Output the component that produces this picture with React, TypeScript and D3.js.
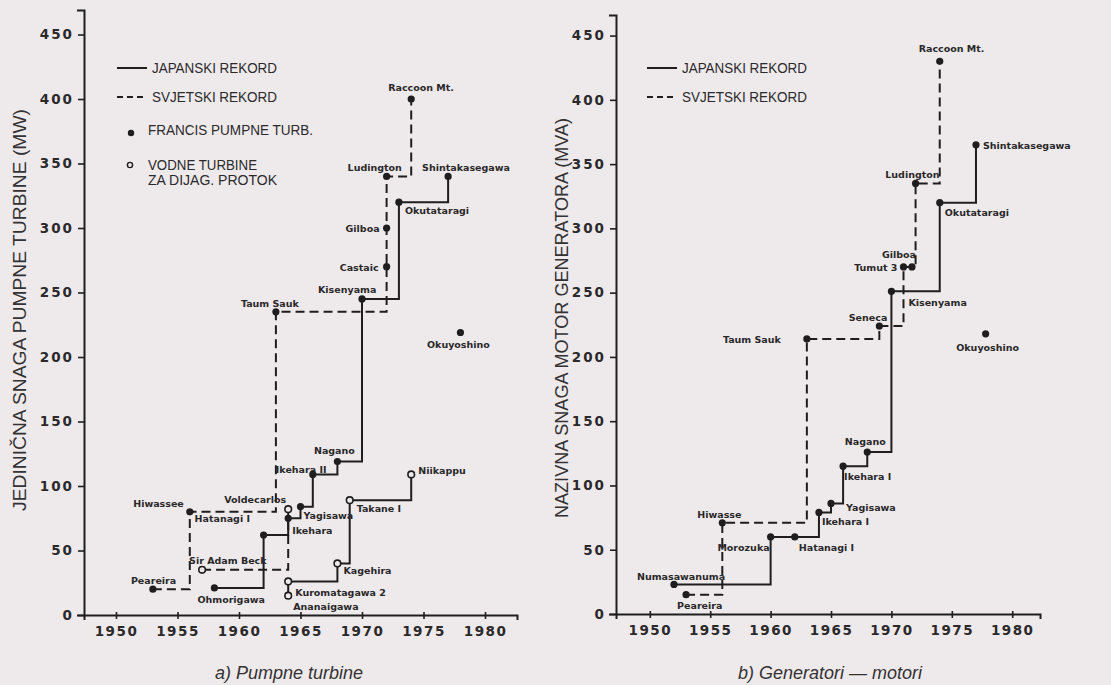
import * as d3 from 'd3';
import { useEffect, useRef } from 'react';

const yearTicks = [1950, 1955, 1960, 1965, 1970, 1975, 1980];
const powerTicks = [0, 50, 100, 150, 200, 250, 300, 350, 400, 450];

// a) Pumpne turbine — Francis pump turbines (filled dots)
const pumpFrancis = [
  { id: 'peareira', name: 'Peareira', year: 1953, value: 20 },
  { id: 'hiwassee', name: 'Hiwassee', year: 1956, value: 80 },
  { id: 'ohmorigawa', name: 'Ohmorigawa', year: 1958, value: 21 },
  { id: 'hatanagi', name: 'Hatanagi I', year: 1962, value: 62 },
  { id: 'taumSauk', name: 'Taum Sauk', year: 1963, value: 235 },
  { id: 'ikehara', name: 'Ikehara', year: 1964, value: 75 },
  { id: 'yagisawa', name: 'Yagisawa', year: 1965, value: 84 },
  { id: 'ikeharaII', name: 'Ikehara II', year: 1966, value: 109 },
  { id: 'nagano', name: 'Nagano', year: 1968, value: 119 },
  { id: 'kisenyama', name: 'Kisenyama', year: 1970, value: 245 },
  { id: 'castaic', name: 'Castaic', year: 1972, value: 270 },
  { id: 'gilboa', name: 'Gilboa', year: 1972, value: 300 },
  { id: 'ludington', name: 'Ludington', year: 1972, value: 340 },
  { id: 'okutataragi', name: 'Okutataragi', year: 1973, value: 320 },
  { id: 'raccoon', name: 'Raccoon Mt.', year: 1974, value: 400 },
  { id: 'shintakasegawa', name: 'Shintakasegawa', year: 1977, value: 340 },
  { id: 'okuyoshino', name: 'Okuyoshino', year: 1978, value: 219 },
];

// a) diagonal flow turbines (open circles)
const pumpDiagonal = [
  { id: 'sirAdamBeck', name: 'Sir Adam Beck', year: 1957, value: 35 },
  { id: 'voldecarlos', name: 'Voldecarlos', year: 1964, value: 82 },
  { id: 'ananaigawa', name: 'Ananaigawa', year: 1964, value: 15 },
  { id: 'kuromatagawa', name: 'Kuromatagawa 2', year: 1964, value: 26 },
  { id: 'kagehira', name: 'Kagehira', year: 1968, value: 40 },
  { id: 'takane', name: 'Takane I', year: 1969, value: 89 },
  { id: 'niikappu', name: 'Niikappu', year: 1974, value: 109 },
];

const pumpJapanRecord = ['ohmorigawa', 'hatanagi', 'ikehara', 'yagisawa', 'ikeharaII', 'nagano', 'kisenyama', 'okutataragi', 'shintakasegawa'];
const pumpJapanDiagonal = ['ananaigawa', 'kuromatagawa', 'kagehira', 'takane', 'niikappu'];
const pumpWorldRecord = ['peareira', 'hiwassee', 'taumSauk', 'ludington', 'raccoon'];
const pumpWorldDiagonal = ['sirAdamBeck', 'voldecarlos'];

// b) Generatori - motori
const genUnits = [
  { id: 'numasawanuma', name: 'Numasawanuma', year: 1952, value: 23 },
  { id: 'peareira', name: 'Peareira', year: 1953, value: 15 },
  { id: 'hiwasse', name: 'Hiwasse', year: 1956, value: 71 },
  { id: 'morozuka', name: 'Morozuka', year: 1960, value: 60 },
  { id: 'hatanagi', name: 'Hatanagi I', year: 1962, value: 60 },
  { id: 'taumSauk', name: 'Taum Sauk', year: 1963, value: 214 },
  { id: 'ikeharaA', name: 'Ikehara I', year: 1964, value: 79 },
  { id: 'yagisawa', name: 'Yagisawa', year: 1965, value: 86 },
  { id: 'ikeharaB', name: 'Ikehara I', year: 1966, value: 115 },
  { id: 'nagano', name: 'Nagano', year: 1968, value: 126 },
  { id: 'seneca', name: 'Seneca', year: 1969, value: 224 },
  { id: 'kisenyama', name: 'Kisenyama', year: 1970, value: 251 },
  { id: 'tumut', name: 'Tumut 3', year: 1971, value: 270 },
  { id: 'gilboa', name: 'Gilboa', year: 1971.7, value: 270 },
  { id: 'ludington', name: 'Ludington', year: 1972, value: 335 },
  { id: 'okutataragi', name: 'Okutataragi', year: 1974, value: 320 },
  { id: 'raccoon', name: 'Raccoon Mt.', year: 1974, value: 430 },
  { id: 'shintakasegawa', name: 'Shintakasegawa', year: 1977, value: 365 },
  { id: 'okuyoshino', name: 'Okuyoshino', year: 1977.8, value: 218 },
];

const genJapanRecord = ['numasawanuma', 'morozuka', 'hatanagi', 'ikeharaA', 'yagisawa', 'ikeharaB', 'nagano', 'kisenyama', 'okutataragi', 'shintakasegawa'];
const genWorldRecord = ['peareira', 'hiwasse', 'taumSauk', 'seneca', 'tumut', 'gilboa', 'ludington', 'raccoon'];

// label placement relative to the marker: dx, dy, anchor
const pumpLabels: Record<string, [number, number, string]> = {
  peareira: [-22, -5, 'start'],
  hiwassee: [-6, -5, 'end'],
  ohmorigawa: [-17, 15, 'start'],
  hatanagi: [-69, -13, 'start'],
  taumSauk: [-35, -5, 'start'],
  ikehara: [4, 16, 'start'],
  yagisawa: [3, 12, 'start'],
  ikeharaII: [-37, -1, 'start'],
  nagano: [-3, -7, 'middle'],
  kisenyama: [-44, -6, 'start'],
  castaic: [-8, 4, 'end'],
  gilboa: [-7, 4, 'end'],
  ludington: [-39, -5, 'start'],
  okutataragi: [6, 12, 'start'],
  raccoon: [-23, -8, 'start'],
  shintakasegawa: [-26, -5, 'start'],
  okuyoshino: [-2, 16, 'middle'],
  sirAdamBeck: [-13, -6, 'start'],
  voldecarlos: [-2, -6, 'end'],
  ananaigawa: [5, 14, 'start'],
  kuromatagawa: [7, 15, 'start'],
  kagehira: [6, 11, 'start'],
  takane: [7, 12, 'start'],
  niikappu: [7, 0, 'start'],
};

const genLabels: Record<string, [number, number, string]> = {
  numasawanuma: [-37, -4, 'start'],
  peareira: [-9, 14, 'start'],
  hiwasse: [-25, -5, 'start'],
  morozuka: [-1, 14, 'end'],
  hatanagi: [4, 14, 'start'],
  taumSauk: [-26, 4, 'end'],
  ikeharaA: [3, 13, 'start'],
  yagisawa: [15, 8, 'start'],
  ikeharaB: [1, 14, 'start'],
  nagano: [-2, -7, 'middle'],
  seneca: [8, -5, 'end'],
  kisenyama: [17, 15, 'start'],
  tumut: [-6, 4, 'end'],
  gilboa: [4, -9, 'end'],
  ludington: [24, -5, 'end'],
  okutataragi: [5, 13, 'start'],
  raccoon: [-21, -9, 'start'],
  shintakasegawa: [7, 4, 'start'],
  okuyoshino: [2, 17, 'middle'],
};

const INK = '#1f1d1e';
const PAPER = '#eeeaec';
const LABEL_FONT = '"DejaVu Sans", sans-serif';
const TITLE_FONT = '"Liberation Sans", Arial, sans-serif';

type Pt = { id: string; name: string; year: number; value: number };

const App = (): React.ReactElement => {
  const ref: any = useRef();
  const width = 1111;
  const height = 685;

  useEffect(() => {
    const svg = d3.select(ref.current);
    svg.selectAll('*').remove();
    svg.append('rect').attr('width', width).attr('height', height).attr('fill', PAPER);

    const drawPanel = (cfg: any) => {
      const x = d3.scaleLinear().domain(cfg.xDomain).range(cfg.xRange);
      const y = d3.scaleLinear().domain(cfg.yDomain).range(cfg.yRange);
      const g = svg.append('g');

      // axes
      const ax = g
        .append('g')
        .attr('transform', 'translate(0,' + y(0) + ')')
        .call(d3.axisBottom(x).tickValues(yearTicks).tickFormat(d3.format('d')).tickSizeOuter(0).tickSize(4).tickPadding(7));
      ax.select('.domain').attr('stroke', INK).attr('stroke-width', 2);
      ax.selectAll('.tick line').attr('stroke', INK).attr('stroke-width', 1.6).attr('y1', -3);
      ax.selectAll('.tick text')
        .attr('fill', '#2b292a')
        .attr('font-family', LABEL_FONT)
        .attr('font-weight', 'bold')
        .attr('font-size', 13.5)
        .attr('letter-spacing', 1.5);

      const ay = g
        .append('g')
        .attr('transform', 'translate(' + x(cfg.xDomain[0]) + ',0)')
        .call(d3.axisLeft(y).tickValues(powerTicks).tickSizeOuter(0).tickSize(6).tickPadding(4));
      ay.select('.domain').attr('stroke', INK).attr('stroke-width', 2);
      ay.selectAll('.tick line').attr('stroke', INK).attr('stroke-width', 1.6);
      ay.selectAll('.tick text')
        .attr('fill', '#2b292a')
        .attr('font-family', LABEL_FONT)
        .attr('font-weight', 'bold')
        .attr('font-size', 13.5)
        .attr('letter-spacing', 2);
      g.selectAll('.domain').attr('stroke-linecap', 'square');

      // axis title
      g.append('text')
        .attr('transform', 'translate(' + cfg.titleX + ',' + cfg.titleY + ') rotate(-90)')
        .attr('text-anchor', 'middle')
        .attr('font-family', TITLE_FONT)
        .attr('font-size', 17.5)
        .attr('fill', '#333132')
        .attr('textLength', cfg.titleLength)
        .attr('lengthAdjust', 'spacingAndGlyphs')
        .text(cfg.title);

      // caption
      g.append('text')
        .attr('x', cfg.captionX)
        .attr('y', 679)
        .attr('text-anchor', 'middle')
        .attr('font-family', TITLE_FONT)
        .attr('font-style', 'italic')
        .attr('font-size', 18)
        .attr('fill', '#333132')
        .text(cfg.caption);

      const all: Pt[] = cfg.points;
      const byId = new Map(all.map((p) => [p.id, p]));
      const line = d3
        .line<Pt>()
        .x((d) => x(d.year))
        .y((d) => y(d.value))
        .curve(d3.curveStepAfter);

      cfg.series.forEach((s: any) => {
        g.append('path')
          .datum(s.ids.map((id: string) => byId.get(id)))
          .attr('d', line)
          .attr('fill', 'none')
          .attr('stroke', INK)
          .attr('stroke-width', 2)
          .attr('stroke-dasharray', s.dashed ? '9,5' : null);
      });

      g.selectAll('circle.filled')
        .data(cfg.filled)
        .enter()
        .append('circle')
        .attr('cx', (d: any) => x(d.year))
        .attr('cy', (d: any) => y(d.value))
        .attr('r', 3.6)
        .attr('fill', INK);

      g.selectAll('circle.open')
        .data(cfg.open)
        .enter()
        .append('circle')
        .attr('cx', (d: any) => x(d.year))
        .attr('cy', (d: any) => y(d.value))
        .attr('r', 3.3)
        .attr('fill', PAPER)
        .attr('stroke', INK)
        .attr('stroke-width', 1.6);

      g.selectAll('text.label')
        .data(all)
        .enter()
        .append('text')
        .attr('x', (d: Pt) => x(d.year) + cfg.labels[d.id][0])
        .attr('y', (d: Pt) => y(d.value) + cfg.labels[d.id][1])
        .attr('text-anchor', (d: Pt) => cfg.labels[d.id][2])
        .attr('font-family', LABEL_FONT)
        .attr('font-weight', 'bold')
        .attr('font-size', 9.5)
        .attr('fill', '#2a2829')
        .text((d: Pt) => d.name);

      // legend
      const lg = g.append('g').attr('font-family', TITLE_FONT).attr('font-size', 15).attr('fill', '#2b292a');
      const lx = cfg.legendX;
      lg.append('line').attr('x1', lx).attr('x2', lx + 30).attr('y1', 68).attr('y2', 68).attr('stroke', INK).attr('stroke-width', 2);
      lg.append('text').attr('x', lx + 35).attr('y', 73).attr('textLength', 125).attr('lengthAdjust', 'spacingAndGlyphs').text('JAPANSKI REKORD');
      lg.append('line')
        .attr('x1', lx)
        .attr('x2', lx + 30)
        .attr('y1', 97)
        .attr('y2', 97)
        .attr('stroke', INK)
        .attr('stroke-width', 2)
        .attr('stroke-dasharray', '6,4');
      lg.append('text').attr('x', lx + 35).attr('y', 102).attr('textLength', 125).attr('lengthAdjust', 'spacingAndGlyphs').text('SVJETSKI REKORD');
      if (cfg.fullLegend) {
        lg.append('circle').attr('cx', lx + 14).attr('cy', 133).attr('r', 3.2).attr('fill', INK);
        lg.append('text').attr('x', lx + 31).attr('y', 135).attr('textLength', 165).attr('lengthAdjust', 'spacingAndGlyphs').text('FRANCIS PUMPNE TURB.');
        lg.append('circle').attr('cx', lx + 13).attr('cy', 165).attr('r', 2.6).attr('fill', 'none').attr('stroke', INK).attr('stroke-width', 1.4);
        lg.append('text').attr('x', lx + 31).attr('y', 170).attr('textLength', 109).attr('lengthAdjust', 'spacingAndGlyphs').text('VODNE TURBINE');
        lg.append('text').attr('x', lx + 31).attr('y', 185).attr('textLength', 129).attr('lengthAdjust', 'spacingAndGlyphs').text('ZA DIJAG. PROTOK');
      }
    };

    drawPanel({
      xDomain: [1947.4, 1982.6],
      xRange: [84, 517],
      yDomain: [0, 469],
      yRange: [615, 10],
      points: [...pumpFrancis, ...pumpDiagonal],
      filled: pumpFrancis,
      open: pumpDiagonal,
      series: [
        { ids: pumpJapanRecord, dashed: false },
        { ids: pumpJapanDiagonal, dashed: false },
        { ids: pumpWorldRecord, dashed: true },
        { ids: pumpWorldDiagonal, dashed: true },
      ],
      labels: pumpLabels,
      title: 'JEDINIČNA SNAGA PUMPNE TURBINE (MW)',
      titleX: 26,
      titleY: 310,
      titleLength: 402,
      caption: 'a) Pumpne turbine',
      captionX: 289,
      legendX: 117,
      fullLegend: true,
    });

    drawPanel({
      xDomain: [1947.2, 1982.3],
      xRange: [616, 1040],
      yDomain: [0, 466],
      yRange: [614, 15],
      points: genUnits,
      filled: genUnits,
      open: [],
      series: [
        { ids: genJapanRecord, dashed: false },
        { ids: genWorldRecord, dashed: true },
      ],
      labels: genLabels,
      title: 'NAZIVNA SNAGA MOTOR GENERATORA (MVA)',
      titleX: 568,
      titleY: 318,
      titleLength: 400,
      caption: 'b) Generatori \u2014 motori',
      captionX: 830,
      legendX: 647,
      fullLegend: false,
    });
  }, []);

  return (
    <div style={{ position: 'absolute', left: 0, top: 0 }}>
      <svg ref={ref} width={width} height={height} style={{ display: 'block' }} />
    </div>
  );
};

export default App;
